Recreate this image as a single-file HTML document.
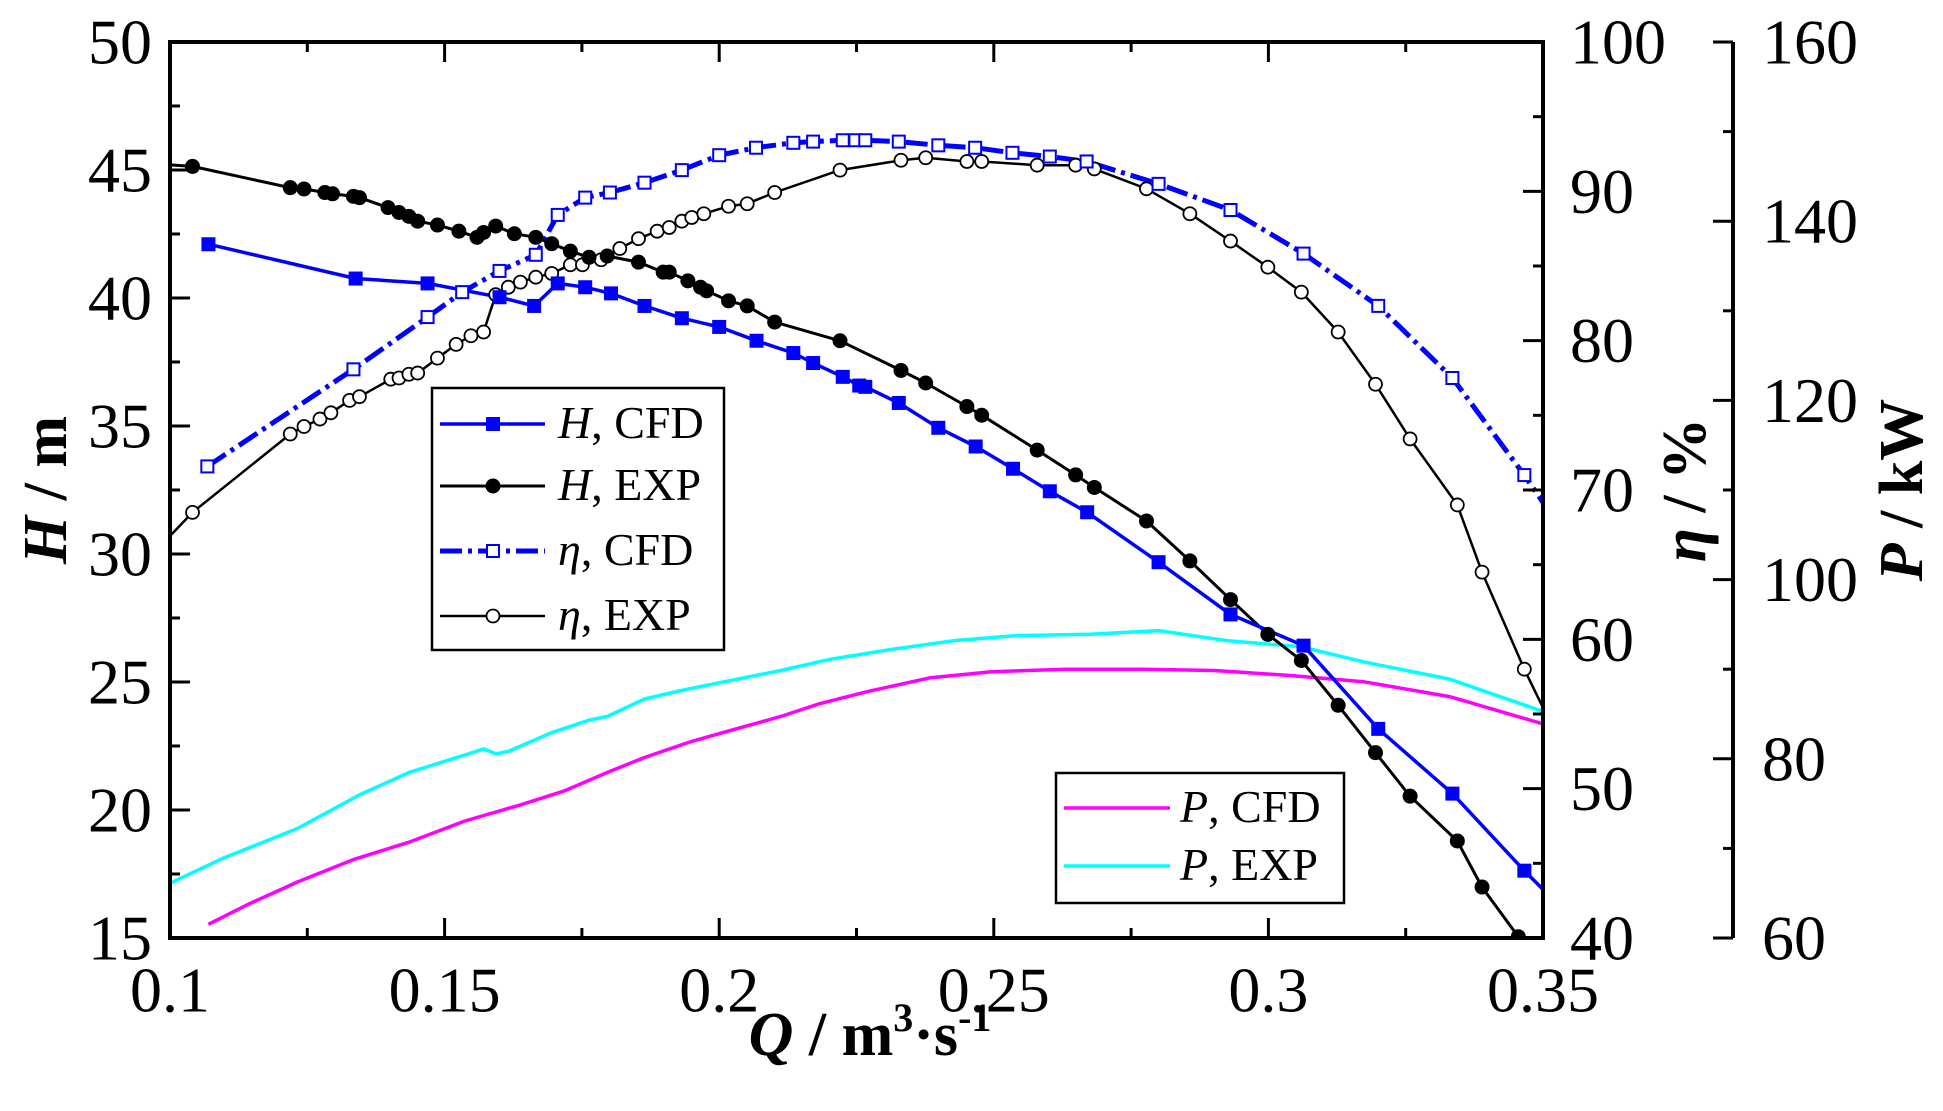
<!DOCTYPE html>
<html><head><meta charset="utf-8"><style>
html,body{margin:0;padding:0;background:#fff;}
svg{display:block;font-family:"Liberation Serif",serif;}
</style></head><body>
<svg id="chart" width="1943" height="1111" viewBox="0 0 1943 1111" xmlns="http://www.w3.org/2000/svg">
<defs><clipPath id="clip"><rect x="170" y="42" width="1373" height="896"/></clipPath></defs>
<g id="marks" clip-path="url(#clip)"></g>
<g id="axes"></g>
<g id="legend1">
<rect x="432" y="388" width="292" height="262" fill="#fff" stroke="#000" stroke-width="2.5"/>
</g>
<g id="legend2">
<rect x="1056" y="773" width="288" height="130" fill="#fff" stroke="#000" stroke-width="2.5"/>
</g>
</svg>
<script>
const qHcfd=[0.107,0.1338,0.1469,0.160,0.1663,0.1706,0.1756,0.1803,0.1864,0.1932,0.2,0.2068,0.2135,0.2171,0.2225,0.2255,0.2266,0.2327,0.2399,0.2467,0.2535,0.2602,0.267,0.28,0.2931,0.3064,0.32,0.3335,0.3466];
const hCfd=[42.1,40.76,40.57,40.03,39.69,40.57,40.42,40.18,39.69,39.21,38.87,38.33,37.85,37.46,36.92,36.58,36.53,35.9,34.93,34.2,33.33,32.45,31.63,29.68,27.64,26.42,23.17,20.64,17.63];
const hCfdEnd=[0.35,16.9];
const qHexp=[0.1041,0.1219,0.1244,0.1282,0.1296,0.1334,0.1345,0.1397,0.1417,0.1435,0.1451,0.1487,0.1526,0.1559,0.1571,0.1593,0.1627,0.1666,0.1695,0.1729,0.1763,0.1796,0.1853,0.1898,0.1909,0.1943,0.1966,0.1977,0.2017,0.2051,0.2101,0.222,0.2331,0.2376,0.2451,0.2478,0.2579,0.2649,0.2683,0.2778,0.2857,0.2931,0.2999,0.306,0.3127,0.3195,0.3258,0.3344,0.3389,0.3455];
const hExp=[45.14,44.31,44.26,44.12,44.07,43.97,43.92,43.53,43.34,43.19,43.0,42.85,42.61,42.37,42.56,42.81,42.51,42.37,42.12,41.83,41.59,41.64,41.4,41.01,41.01,40.67,40.42,40.28,39.89,39.69,39.06,38.33,37.17,36.68,35.76,35.42,34.06,33.09,32.6,31.29,29.73,28.22,26.86,25.84,24.09,22.24,20.54,18.79,16.99,15.05];
const hExpStart=[0.1,45.2];
const qEcfd=[0.1068,0.1334,0.1469,0.1532,0.16,0.1666,0.1706,0.1756,0.1801,0.1864,0.1932,0.2,0.2067,0.2135,0.2171,0.2225,0.2248,0.2266,0.2327,0.2399,0.2466,0.2534,0.2602,0.2669,0.28,0.2931,0.3064,0.32,0.3335,0.3466];
const eCfd=[71.58,78.08,81.58,83.25,84.67,85.75,88.42,89.58,89.92,90.58,91.42,92.42,92.92,93.25,93.33,93.42,93.42,93.42,93.33,93.08,92.92,92.58,92.33,92.0,90.5,88.75,85.83,82.33,77.5,71.0];
const eCfdEnd=[0.35,69.17];
const qEexp=[0.1041,0.1219,0.1244,0.1273,0.1293,0.1327,0.1345,0.1402,0.1417,0.1435,0.1451,0.1487,0.1521,0.1548,0.1571,0.1593,0.1616,0.1638,0.1666,0.1695,0.1729,0.1751,0.1785,0.1819,0.1853,0.1887,0.1909,0.1932,0.195,0.1972,0.2017,0.2051,0.2101,0.222,0.2331,0.2376,0.2451,0.2478,0.2579,0.2649,0.2683,0.2778,0.2857,0.2931,0.2999,0.306,0.3127,0.3195,0.3258,0.3344,0.3389,0.3466];
const eExp=[68.5,73.75,74.25,74.75,75.17,76.0,76.25,77.42,77.5,77.75,77.83,78.83,79.75,80.33,80.58,83.08,83.58,83.92,84.25,84.5,85.08,85.08,85.42,86.17,86.83,87.33,87.58,88.0,88.25,88.5,89.0,89.17,89.92,91.42,92.08,92.25,92.0,92.0,91.75,91.75,91.5,90.17,88.5,86.67,84.92,83.25,80.58,77.08,73.42,69.0,64.5,58.0];
const eExpStart=[0.1,66.92];
const eExpEnd=[0.35,55.42];
const qPcfd=[0.107,0.1142,0.1232,0.1334,0.1435,0.1537,0.1638,0.1717,0.1796,0.1864,0.1943,0.2022,0.2112,0.218,0.227,0.2383,0.2496,0.2631,0.2766,0.2902,0.3037,0.3173,0.333,0.35];
const pCfd=[61.53,63.75,66.25,68.75,70.69,73.06,74.86,76.39,78.47,80.14,81.81,83.19,84.72,86.11,87.5,89.03,89.72,90.0,90.0,89.86,89.31,88.61,86.94,83.89];
const qPexp=[0.1,0.1097,0.1232,0.1345,0.1435,0.1537,0.1571,0.1593,0.1616,0.1695,0.1763,0.1796,0.1864,0.1932,0.2022,0.2112,0.2202,0.2315,0.2428,0.2541,0.2676,0.28,0.2924,0.306,0.3173,0.333,0.35];
const pExp=[66.11,68.92,72.22,75.97,78.47,80.42,81.11,80.56,80.83,82.92,84.31,84.72,86.67,87.64,88.75,89.86,91.11,92.22,93.19,93.75,93.89,94.31,93.19,92.5,90.83,88.89,85.28];
const xTicks=["0.1","0.15","0.2","0.25","0.3","0.35"];
const hTicks=["15","20","25","30","35","40","45","50"];
const eTicks=["40","50","60","70","80","90","100"];
const pTicks=["60","80","100","120","140","160"];

const L=170,R=1543,T=42,B=938,PX=1733;
const X=q=>L+(q-0.1)/0.25*(R-L);
const YH=h=>B-(h-15)/35*(B-T);
const YE=e=>B-(e-40)/60*(B-T);
const YP=p=>B-(p-60)/100*(B-T);
const NS="http://www.w3.org/2000/svg";
function mk(tag,parent,attrs){const e=document.createElementNS(NS,tag);for(const k in attrs)e.setAttribute(k,attrs[k]);parent.appendChild(e);return e;}
const marks=document.getElementById('marks'),axes=document.getElementById('axes');

function line(qs,vs,Y,color,w,dash,name){
  const d=qs.map((q,i)=>(i?'L':'M')+X(q).toFixed(1)+' '+Y(vs[i]).toFixed(1)).join(' ');
  const p=mk('path',marks,{d:d,fill:'none',stroke:color,'stroke-width':w,'stroke-linejoin':'round'});
  if(dash)p.setAttribute('stroke-dasharray',dash);
  
  
}
function markers(qs,vs,Y,type,color,name){
  qs.forEach((q,i)=>{
    const x=X(q),y=Y(vs[i]);let m;
    if(type==='sq')m=mk('rect',marks,{x:x-7,y:y-7,width:14,height:14,fill:color});
    else if(type==='osq')m=mk('rect',marks,{x:x-6,y:y-6,width:12,height:12,fill:'#fff',stroke:color,'stroke-width':2});
    else if(type==='ci')m=mk('circle',marks,{cx:x,cy:y,r:7.5,fill:color});
    else m=mk('circle',marks,{cx:x,cy:y,r:6.5,fill:'#fff',stroke:color,'stroke-width':1.8});
    
    
  });
}
line(qPexp,pExp,YP,'#00ffff',3.5,null,'p-exp-line');
line(qPcfd,pCfd,YP,'#ff00ff',3.5,null,'p-cfd-line');
line([eExpStart[0]].concat(qEexp,[eExpEnd[0]]),[eExpStart[1]].concat(eExp,[eExpEnd[1]]),YE,'#000',2.5,null,'eta-exp-line');
line(qEcfd.concat([eCfdEnd[0]]),eCfd.concat([eCfdEnd[1]]),YE,'#0000ff',5,'22 6 4 6','eta-cfd-line');
line([hExpStart[0]].concat(qHexp),[hExpStart[1]].concat(hExp),YH,'#000',3,null,'h-exp-line');
line(qHcfd.concat([hCfdEnd[0]]),hCfd.concat([hCfdEnd[1]]),YH,'#0000ff',3.5,null,'h-cfd-line');
markers(qEexp,eExp,YE,'oci','#000','eta-exp-point');
markers(qEcfd,eCfd,YE,'osq','#0000ff','eta-cfd-point');
markers(qHexp,hExp,YH,'ci','#000','h-exp-point');
markers(qHcfd,hCfd,YH,'sq','#0000ff','h-cfd-point');

// axes frame
let f=mk('rect',axes,{x:L,y:T,width:R-L,height:B-T,fill:'none',stroke:'#000','stroke-width':4});

let pa=mk('line',axes,{x1:PX,y1:T,x2:PX,y2:B,stroke:'#000','stroke-width':4});

function tl(x1,y1,x2,y2){mk('line',axes,{x1,y1,x2,y2,stroke:'#000','stroke-width':3});}
function txt(s,x,y,anchor,name,size){const t=mk('text',axes,{x,y,'text-anchor':anchor,'font-size':size||64,'dominant-baseline':'central'});t.textContent=s;return t;}
xTicks.forEach((s,i)=>{const q=parseFloat(s),x=X(q);tl(x,B,x,B-20);tl(x,T,x,T+20);
  if(i<xTicks.length-1){const xm=X(q+0.025);tl(xm,B,xm,B-10);tl(xm,T,xm,T+10);}
  txt(s,x,990,'middle','x-tick-label');});
hTicks.forEach((s,i)=>{const y=YH(parseFloat(s));tl(L,y,L+20,y);
  if(i<hTicks.length-1){const ym=YH(parseFloat(s)+2.5);tl(L,ym,L+10,ym);}
  txt(s,152,y,'end','h-tick-label');});
eTicks.forEach((s,i)=>{const y=YE(parseFloat(s));tl(R,y,R-20,y);
  if(i<eTicks.length-1){const ym=YE(parseFloat(s)+5);tl(R,ym,R-10,ym);}
  txt(s,1570,y,'start','eta-tick-label');});
pTicks.forEach((s,i)=>{const y=YP(parseFloat(s));tl(PX,y,PX-20,y);
  if(i<pTicks.length-1){const ym=YP(parseFloat(s)+10);tl(PX,ym,PX-10,ym);}
  txt(s,1762,y,'start','p-tick-label');});
</script>
<svg width="0" height="0" style="position:absolute"></svg>
<script>
const svg=document.getElementById('chart');
function addRaw(html){svg.insertAdjacentHTML('beforeend',html);}
addRaw('<text x="870" y="1055" text-anchor="middle" font-size="62" font-weight="bold"><tspan font-style="italic">Q</tspan> / m<tspan font-size="40" dy="-24">3</tspan><tspan dy="24">·s</tspan><tspan font-size="40" dy="-24">-1</tspan></text>');
addRaw('<text transform="translate(66,490) rotate(-90)" text-anchor="middle" font-size="62" font-weight="bold"><tspan font-style="italic">H</tspan> / m</text>');
addRaw('<text transform="translate(1705,490) rotate(-90)" text-anchor="middle" font-size="62" font-weight="bold"><tspan font-style="italic">η</tspan> / %</text>');
addRaw('<text transform="translate(1922,490) rotate(-90)" text-anchor="middle" font-size="62" font-weight="bold"><tspan font-style="italic">P</tspan> / kW</text>');
const l1=document.getElementById('legend1'),l2=document.getElementById('legend2');
l1.insertAdjacentHTML('beforeend',
'<g><line x1="440" y1="424" x2="545" y2="424" stroke="#00f" stroke-width="3.5"/><rect x="486" y="417" width="14" height="14" fill="#00f"/><text x="558" y="438" font-size="46"><tspan font-style="italic">H</tspan>, CFD</text></g>'+
'<g><line x1="440" y1="486" x2="545" y2="486" stroke="#000" stroke-width="3"/><circle cx="493" cy="486" r="7.5" fill="#000"/><text x="558" y="500" font-size="46"><tspan font-style="italic">H</tspan>, EXP</text></g>'+
'<g><line x1="440" y1="551" x2="545" y2="551" stroke="#00f" stroke-width="5" stroke-dasharray="22 6 4 6"/><rect x="487" y="545" width="12" height="12" fill="#fff" stroke="#00f" stroke-width="2"/><text x="558" y="565" font-size="46"><tspan font-style="italic">η</tspan>, CFD</text></g>'+
'<g><line x1="440" y1="616" x2="545" y2="616" stroke="#000" stroke-width="2.5"/><circle cx="493" cy="616" r="6.5" fill="#fff" stroke="#000" stroke-width="1.8"/><text x="558" y="630" font-size="46"><tspan font-style="italic">η</tspan>, EXP</text></g>');
l2.insertAdjacentHTML('beforeend',
'<g><line x1="1064" y1="808" x2="1170" y2="808" stroke="#f0f" stroke-width="3.5"/><text x="1180" y="822" font-size="46"><tspan font-style="italic">P</tspan>, CFD</text></g>'+
'<g><line x1="1064" y1="866" x2="1170" y2="866" stroke="#0ff" stroke-width="3.5"/><text x="1180" y="880" font-size="46"><tspan font-style="italic">P</tspan>, EXP</text></g>');
</script>
</body></html>
